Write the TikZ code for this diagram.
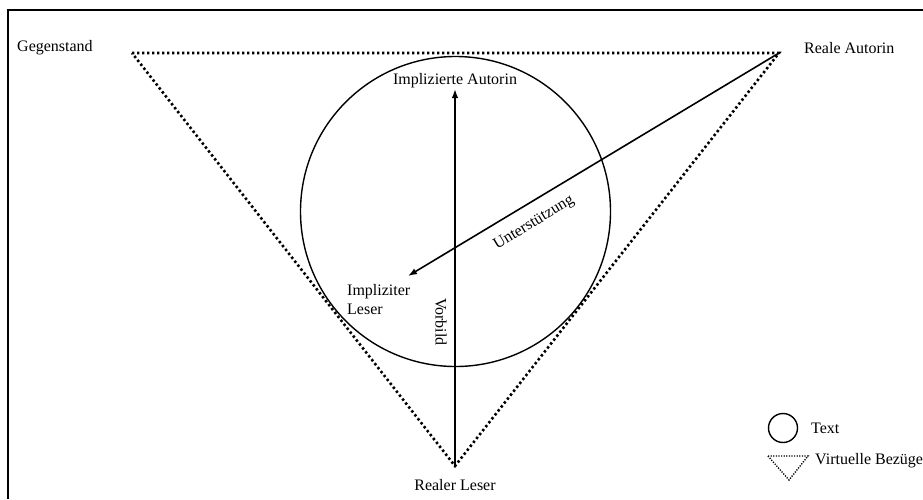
\documentclass[tikz,border=0pt]{standalone}
\usepackage{fontspec}
\setmainfont{Liberation Serif}
\usetikzlibrary{arrows.meta}
\begin{document}
\begin{tikzpicture}[x=1pt,y=-1pt,
  lbl/.style={font=\fontsize{16}{18}\selectfont, inner sep=0pt},
  vdots/.style={line width=2.6pt, dash pattern=on 2.4pt off 2.6pt},
  arr/.style={line width=1.6pt, -{Latex[length=9pt,width=6.5pt]}}]
\useasboundingbox (0,0) rectangle (923,499);
% frame
\draw[line width=1.5pt] (8,499) -- (8,10) -- (923,10);
% corners
\coordinate (G) at (132,53);
\coordinate (R) at (779,53);
\coordinate (L) at (455,466);
\coordinate (IA) at (455,89);
\coordinate (IL) at (408,276);
% circle (Text)
\node[draw, circle, line width=1.4pt, minimum size=310pt, inner sep=0pt] (circ) at (455.5,211.5) {};
% triangle (virtual relations)
\draw[vdots] (G) -- (R) -- (L) -- cycle;
% arrows
\draw[arr] (L) -- (IA);
\draw[arr] (R) -- (IL);
% labels
\node[lbl, anchor=west] (geg) at (17,48) {Gegenstand};
\node[lbl, anchor=west] (rau) at (804,48) {Reale Autorin};
\node[lbl] (iau) at (455,81) {Implizierte Autorin};
\node[lbl, anchor=north west, align=left] (ile) at (347,284) {Impliziter\\[1pt]Leser};
\node[lbl] (rle) at (455,485) {Realer Leser};
\node[lbl, rotate=-90] (vor) at (441,322) {Vorbild};
\node[lbl, rotate=31.1] (unt) at (534,223) {Unterstützung};
% legend
\node[draw, circle, line width=1.4pt, minimum size=29pt, inner sep=0pt] (legc) at (783,428) {};
\node[lbl, anchor=west] (legt) at (811,428) {Text};
\coordinate (ta) at (768,456);
\coordinate (tb) at (808,456);
\coordinate (tc) at (789,480);
\draw[line width=1.4pt, dash pattern=on 1.2pt off 1.4pt] (ta) -- (tb) -- (tc) -- cycle;
\node[lbl, anchor=west] (legv) at (815,461) {Virtuelle Bezüge};
\end{tikzpicture}
\end{document}
